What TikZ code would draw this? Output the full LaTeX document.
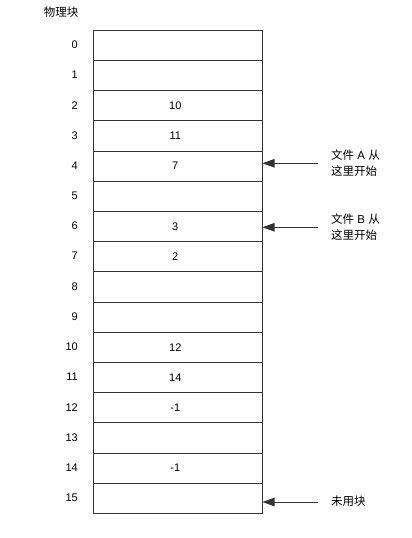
\documentclass[tikz,border=0pt]{standalone}
\usepackage{fontspec}
\setmainfont{Liberation Sans}
\newfontfamily\cjk{Noto Sans CJK SC}
\usetikzlibrary{arrows.meta}
\definecolor{linec}{HTML}{333333}
\begin{document}
\begin{tikzpicture}[x=1pt,y=-1pt,
  cell/.style={draw=linec,line width=1pt,minimum width=169pt,minimum height=30.2pt,inner sep=0pt,font=\fontsize{11}{13}\selectfont},
  rowlbl/.style={anchor=east,inner sep=0pt,font=\fontsize{11}{13}\selectfont},
  note/.style={anchor=west,inner sep=0pt,align=left,font=\fontsize{11.5}{16}\selectfont},
  ptr/.style={draw=linec,line width=1pt,-{Triangle[length=12pt,width=8.5pt]}}]
\useasboundingbox (0,0) rectangle (412,538);
\node[inner sep=0pt,font=\fontsize{11.5}{14}\selectfont\cjk] (hdr) at (61,12) {物理块};
\foreach \i/\v in {0/,1/,2/10,3/11,4/7,5/,6/3,7/2,8/,9/,10/12,11/14,12/-1,13/,14/-1,15/}{
  \node[cell] (c\i) at (177.5,{45.4+30.2*\i}) {\hspace*{-4.5pt}\v};
  \node[rowlbl] (r\i) at (78,{44.8+30.2*\i}) {\i};
}
\node[note] (nA) at (331,163) {{\cjk 文件} A {\cjk 从}\\{\cjk 这里开始}};
\node[note] (nB) at (331,227) {{\cjk 文件} B {\cjk 从}\\{\cjk 这里开始}};
\node[note,font=\fontsize{11.5}{14}\selectfont\cjk] (nU) at (331,501) {未用块};
\coordinate (aA) at (318,163.3);
\coordinate (aB) at (318,227.3);
\coordinate (aU) at (318,502);
\draw[ptr] (aA) -- (c4.east |- aA);
\draw[ptr] (aB) -- (c6.east |- aB);
\draw[ptr] (aU) -- (c15.east |- aU);
\end{tikzpicture}
\end{document}
